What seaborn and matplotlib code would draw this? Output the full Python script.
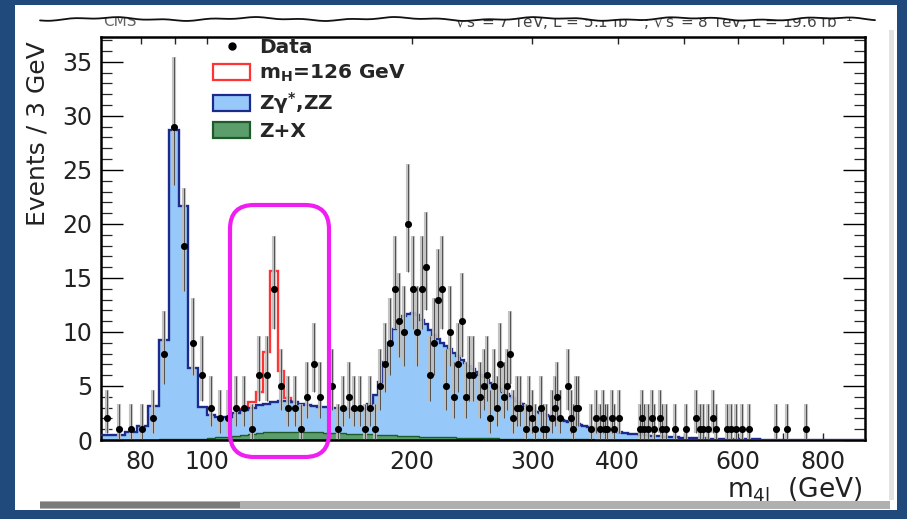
import numpy as np
import matplotlib
matplotlib.use("Agg")
import matplotlib.pyplot as plt
import matplotlib.transforms as mtransforms
from matplotlib.patches import FancyBboxPatch, Rectangle, Patch, Polygon
from matplotlib.lines import Line2D
from matplotlib.ticker import MultipleLocator, FixedLocator, FixedFormatter, NullLocator
import seaborn as sns

# ---------------- data ----------------
BIN_START = 70
BIN_WIDTH = 3

# total background (Zgamma*,ZZ + Z+X) per 3 GeV bin, starting at 70 GeV
bkg_total = [
    0.45, 0.5, 0.7, 1.25, 3.15, 9.3, 28.7, 21.7, 6.7, 3.1,
    2.3, 2.1, 2.15, 2.5, 2.75, 3.0, 3.2, 3.35, 3.5, 3.6,
    3.6, 3.5, 3.35, 3.2, 3.15, 3.1, 3.05, 3.0, 2.95, 2.9,
    2.85, 2.85, 2.8, 2.9, 3.3, 4.2, 5.4, 7.2, 9.0, 10.3,
    11.0, 11.45, 11.7, 11.75, 11.55, 11.15, 10.7, 10.2, 9.75, 9.35,
    8.95, 8.7, 8.4, 8.05, 7.75, 7.45, 7.15, 6.85, 6.55, 6.25,
    6.0, 5.8, 5.55, 5.3, 5.1, 4.9, 4.7, 4.45, 4.25, 4.05,
    3.85, 3.65, 3.45, 3.3, 3.15, 3.0, 2.85, 2.7, 2.6, 2.5,
    2.4, 2.3, 2.2, 2.1, 2.03, 1.96, 1.89, 1.82, 1.75, 1.68,
    1.62, 1.56, 1.5, 1.44, 1.38, 1.32, 1.27, 1.22, 1.17, 1.12,
    1.07, 1.03, 0.99, 0.95, 0.91, 0.88, 0.85, 0.82, 0.79, 0.76,
    0.73, 0.7, 0.67, 0.65, 0.62, 0.6, 0.57, 0.55, 0.53, 0.51,
    0.49, 0.47, 0.45, 0.44, 0.42, 0.41, 0.39, 0.38, 0.36, 0.35,
    0.34, 0.33, 0.32, 0.31, 0.3, 0.29, 0.28, 0.27, 0.26, 0.25,
    0.24, 0.23, 0.22, 0.21, 0.21, 0.2, 0.19, 0.19, 0.18, 0.17,
    0.17, 0.16, 0.16, 0.15, 0.15, 0.14, 0.14, 0.13, 0.13, 0.12,
    0.12, 0.11, 0.11, 0.11, 0.1, 0.1, 0.1, 0.09, 0.09, 0.09,
    0.08, 0.08, 0.08, 0.08, 0.07, 0.07, 0.07, 0.07, 0.06, 0.06,
    0.06, 0.06, 0.06, 0.05, 0.05, 0.05, 0.05, 0.05, 0.05, 0.05,
    0.05, 0.05, 0.045, 0.045, 0.045, 0.045, 0.04, 0.04, 0.04, 0.04,
    0.04, 0.04, 0.04, 0.04, 0.04, 0.035, 0.035, 0.035, 0.035, 0.035,
    0.035, 0.035, 0.035, 0.035, 0.035, 0.03, 0.03, 0.03, 0.03, 0.03,
    0.03, 0.03, 0.03, 0.03, 0.03, 0.03, 0.03, 0.03, 0.03, 0.03,
    0.03, 0.03, 0.03, 0.03, 0.03, 0.025, 0.025, 0.025, 0.025, 0.025,
    0.025, 0.025, 0.025, 0.025, 0.025, 0.025, 0.025, 0.025, 0.025, 0.025,
    0.025, 0.025, 0.025, 0.025, 0.025, 0.02, 0.02, 0.02, 0.02, 0.02,
    0.02, 0.02, 0.02, 0.02, 0.02, 0.02, 0.02, 0.02, 0.02, 0.02,
    0.02, 0.02, 0.02, 0.02, 0.02, 0.02, 0.02, 0.02, 0.02, 0.02,
    0.02, 0.02, 0.02, 0.02,
]

# Z+X reducible background per 3 GeV bin, starting at 70 GeV
zx_values = [
    0.02, 0.02, 0.03, 0.03, 0.04, 0.05, 0.06, 0.07, 0.09, 0.12,
    0.17, 0.24, 0.32, 0.41, 0.5, 0.58, 0.65, 0.7, 0.73, 0.75,
    0.76, 0.76, 0.75, 0.74, 0.72, 0.7, 0.68, 0.66, 0.64, 0.62,
    0.6, 0.58, 0.56, 0.54, 0.52, 0.5, 0.48, 0.46, 0.44, 0.42,
    0.4, 0.38, 0.36, 0.35, 0.34, 0.32, 0.31, 0.3, 0.29, 0.28,
    0.27, 0.26, 0.25, 0.24, 0.23, 0.22, 0.21, 0.2, 0.19, 0.18,
    0.17, 0.16, 0.16, 0.15, 0.14, 0.14, 0.13, 0.13, 0.12, 0.12,
    0.11, 0.11, 0.1, 0.1, 0.1, 0.09, 0.09, 0.09, 0.08, 0.08,
    0.08, 0.07, 0.07, 0.07, 0.07, 0.06, 0.06, 0.06, 0.06, 0.05,
    0.05, 0.05, 0.05, 0.05, 0.05, 0.05, 0.05, 0.05, 0.05, 0.05,
    0.04, 0.04, 0.04, 0.04, 0.04, 0.04, 0.04, 0.04, 0.04, 0.04,
    0.03, 0.03, 0.03, 0.03, 0.03, 0.03, 0.03, 0.03, 0.03, 0.03,
]

# Higgs signal (mH = 126 GeV) stacked on top, bins from 112 GeV
SIG_START = 112
signal = [0.1, 0.55, 1.2, 4.75, 12.1, 2.8, 0.3, 0.05]

# observed events (bin centres, counts)
data_mass = [
    71.5, 74.5, 77.5, 80.5, 83.5, 86.5, 89.5, 92.5, 95.5, 98.5,
    101.5, 104.5, 107.5, 110.5, 113.5, 116.5, 119.5, 122.5, 125.5, 128.5,
    131.5, 134.5, 137.5, 140.5, 143.5, 146.5, 152.5, 155.5, 158.5, 161.5,
    164.5, 167.5, 170.5, 173.5, 176.5, 179.5, 182.5, 185.5, 188.5, 191.5,
    194.5, 197.5, 200.5, 203.5, 206.5, 209.5, 212.5, 215.5, 218.5, 221.5,
    224.5, 227.5, 230.5, 233.5, 236.5, 239.5, 242.5, 245.5, 251.5, 254.5,
    257.5, 260.5, 263.5, 266.5, 269.5, 272.5, 275.5, 278.5, 281.5, 284.5,
    287.5, 293.5, 296.5, 299.5, 302.5, 308.5, 311.5, 314.5, 320.5, 323.5,
    326.5, 329.5, 338.5, 341.5, 344.5, 347.5, 350.5, 365.5, 371.5, 377.5,
    380.5, 383.5, 386.5, 392.5, 395.5, 401.5, 431.5, 434.5, 437.5, 443.5,
    449.5, 452.5, 461.5, 464.5, 470.5, 485.5, 503.5, 521.5, 527.5, 533.5,
    542.5, 551.5, 557.5, 578.5, 587.5, 596.5, 608.5, 623.5, 683.5, 707.5,
    755.5,
]
data_count = [
    2, 1, 1, 1, 2, 8, 29, 18, 9, 6,
    3, 2, 2, 3, 3, 1, 6, 6, 14, 5,
    3, 3, 1, 4, 7, 4, 5, 1, 3, 4,
    3, 3, 1, 3, 1, 5, 7, 9, 14, 11,
    10, 20, 14, 10, 14, 16, 6, 9, 13, 14,
    5, 10, 4, 7, 11, 4, 6, 6, 4, 5,
    6, 2, 5, 3, 7, 4, 5, 8, 2, 3,
    3, 1, 3, 2, 1, 3, 1, 1, 2, 3,
    4, 2, 5, 2, 1, 3, 3, 1, 2, 1,
    2, 1, 1, 2, 1, 2, 1, 2, 1, 1,
    2, 1, 2, 1, 1, 1, 1, 2, 1, 1,
    1, 2, 1, 1, 1, 1, 1, 1, 1, 1,
    1,
]

xtick_values = [80, 90, 100, 200, 300, 400, 500, 600, 700, 800]
xtick_labels = ["80", "", "100", "200", "300", "400", "", "600", "", "800"]
legend_labels = ["Data", r"m$_{\mathbf{H}}$=126 GeV", r"Z$\gamma^{*}$,ZZ", "Z+X"]

# ---------------- style ----------------
sns.set_theme(style="white")
plt.rcParams["font.family"] = ["DejaVu Sans"]
plt.rcParams["mathtext.default"] = "regular"

BLUE_FILL = "#96c9fa"
BLUE_LINE = "#1c2a8c"
GREEN_FILL = "#5b9e6b"
GREEN_LINE = "#1e5a2a"
RED = "#ff3333"
MAGENTA = "#f01ef0"
NAVY_BG = "#204a7c"

W, H = 907, 519
fig = plt.figure(figsize=(W / 100, H / 100), dpi=100, facecolor=NAVY_BG)
pxt = mtransforms.Affine2D().scale(1.0 / W, 1.0 / H) + fig.transFigure


def img_y(y):
    return H - y


# paper sheet
fig.add_artist(Rectangle((15, img_y(510)), 882, 505, transform=pxt,
                         facecolor="white", edgecolor="none", zorder=-5))
fig.add_artist(Rectangle((889, img_y(500)), 5, 470, transform=pxt,
                         facecolor="#e2e2e2", edgecolor="none", zorder=-4))

ax = fig.add_axes([101 / W, 1 - 440 / H, 764 / W, 403 / H])
ax.set_facecolor("white")

# ---------------- histograms ----------------
bkg = np.array(bkg_total)
edges = BIN_START + BIN_WIDTH * np.arange(len(bkg) + 1)
zx = np.array(zx_values)
edges_zx = BIN_START + BIN_WIDTH * np.arange(len(zx) + 1)
sig = np.array(signal)
i0 = (SIG_START - BIN_START) // BIN_WIDTH
edges_sig = SIG_START + BIN_WIDTH * np.arange(len(sig) + 1)
sig_top = bkg[i0:i0 + len(sig)] + sig

ax.stairs(bkg, edges, baseline=0, fill=True, facecolor=BLUE_FILL,
          edgecolor="none", zorder=1)
ax.stairs(zx, edges_zx, baseline=0, fill=True, facecolor=GREEN_FILL,
          edgecolor="none", zorder=2)
ax.stairs(zx, edges_zx, baseline=None, color=GREEN_LINE, lw=1.0, zorder=2.1)
ax.stairs(sig_top, edges_sig, baseline=None, color=RED, lw=1.7, zorder=3)
ax.stairs(bkg, edges, baseline=None, color=BLUE_LINE, lw=1.7, zorder=4)

# ---------------- data with Poisson errors ----------------
n = np.array(data_count, dtype=float)
m = np.array(data_mass)
err_hi = n + 1.0 + np.sqrt(n + 0.75)
err_lo = n - np.sqrt(n - 0.25)
ax.vlines(m, err_lo, err_hi, colors="#bdbdbd", lw=3.0, alpha=0.9, zorder=5)
ax.vlines(m, err_lo, err_hi, colors="#505050", lw=0.7, zorder=5.1)
sns.scatterplot(x=m, y=n, ax=ax, color="black", s=26, linewidth=0,
                zorder=6, legend=False)

# ---------------- axes ----------------
ax.set_xscale("log")
ax.set_xlim(70, 922)
ax.set_ylim(0, 37.3)
ax.xaxis.set_major_locator(FixedLocator(xtick_values))
ax.xaxis.set_major_formatter(FixedFormatter(xtick_labels))
ax.xaxis.set_minor_locator(NullLocator())
ax.yaxis.set_major_locator(MultipleLocator(5))
ax.yaxis.set_minor_locator(MultipleLocator(1))
ax.tick_params(axis="y", which="major", direction="in", length=16, width=1.0,
               left=True, right=True, labelsize=17, pad=6, colors="black",
               labelcolor="#222222")
ax.tick_params(axis="y", which="minor", direction="in", length=8, width=0.9,
               left=True, right=True)
ax.tick_params(axis="x", which="major", direction="in", length=5, width=1.0,
               top=True, bottom=True, labelsize=17, pad=7, labelcolor="#222222")
for s in ax.spines.values():
    s.set_linewidth(1.8)
    s.set_color("black")
ax.set_xlabel("")
ax.set_ylabel("")

fig.text(38 / W, 1 - 134 / H, "Events / 3 GeV", rotation=90, fontsize=18,
         ha="center", va="center", color="#222222")
fig.text(862 / W, 1 - 490 / H, r"m$_{4l}$  (GeV)", fontsize=19,
         ha="right", va="center", color="#222222")

# ---------------- legend ----------------
handles = [
    Line2D([], [], marker="o", color="black", ls="none", markersize=5),
    Patch(facecolor="white", edgecolor=RED, lw=1.6),
    Patch(facecolor=BLUE_FILL, edgecolor=BLUE_LINE, lw=1.6),
    Patch(facecolor=GREEN_FILL, edgecolor=GREEN_LINE, lw=1.6),
]
fig.legend(handles, legend_labels, loc="upper left",
           bbox_to_anchor=(213 / W, 1 - 38 / H), bbox_transform=fig.transFigure,
           frameon=False, borderpad=0, borderaxespad=0, handlelength=1.85,
           handleheight=0.85, labelspacing=0.3, handletextpad=0.45,
           prop={"weight": "bold", "size": 14.5})

# ---------------- header text under the torn edge ----------------
fig.text(103 / W, 1 - 22 / H, "CMS", fontsize=11, color="#666666",
         ha="left", va="center", zorder=1)
fig.text(455 / W, 1 - 22 / H,
         r"$\sqrt{s}$ = 7 TeV, L = 5.1 fb$^{-1}$; $\sqrt{s}$ = 8 TeV, L = 19.6 fb$^{-1}$",
         fontsize=11, color="#444444", ha="left", va="center", zorder=1)

xs = np.linspace(40, 875, 300)
ys = 19 + 1.3 * np.sin(xs / 23.0) + 0.7 * np.sin(xs / 7.3 + 1.0)
top_poly = np.column_stack([np.r_[xs, 875, 40], img_y(np.r_[ys, 6, 6])])
fig.add_artist(Polygon(top_poly, closed=True, transform=pxt, facecolor="white",
                       edgecolor="none", zorder=2))
fig.add_artist(Line2D(xs, img_y(ys), transform=pxt, color="#111111", lw=1.3,
                      zorder=3))

# bottom torn-edge shadow
fig.add_artist(Rectangle((40, img_y(509)), 850, 8, transform=pxt,
                         facecolor="#b0b0b0", edgecolor="none", zorder=3))
fig.add_artist(Rectangle((40, img_y(508)), 200, 6, transform=pxt,
                         facecolor="#7a7a7a", edgecolor="none", zorder=3.1))
fig.add_artist(Rectangle((0, 0), W, img_y(511), transform=pxt,
                         facecolor=NAVY_BG, edgecolor="none", zorder=3.2))

# ---------------- magenta highlight ----------------
fig.add_artist(FancyBboxPatch((230, img_y(457)), 99, 252, transform=pxt,
                              boxstyle="round,pad=0,rounding_size=24",
                              facecolor="none", edgecolor=MAGENTA, lw=3.0,
                              zorder=10))

fig.savefig("out.png", dpi=100, facecolor=NAVY_BG)
